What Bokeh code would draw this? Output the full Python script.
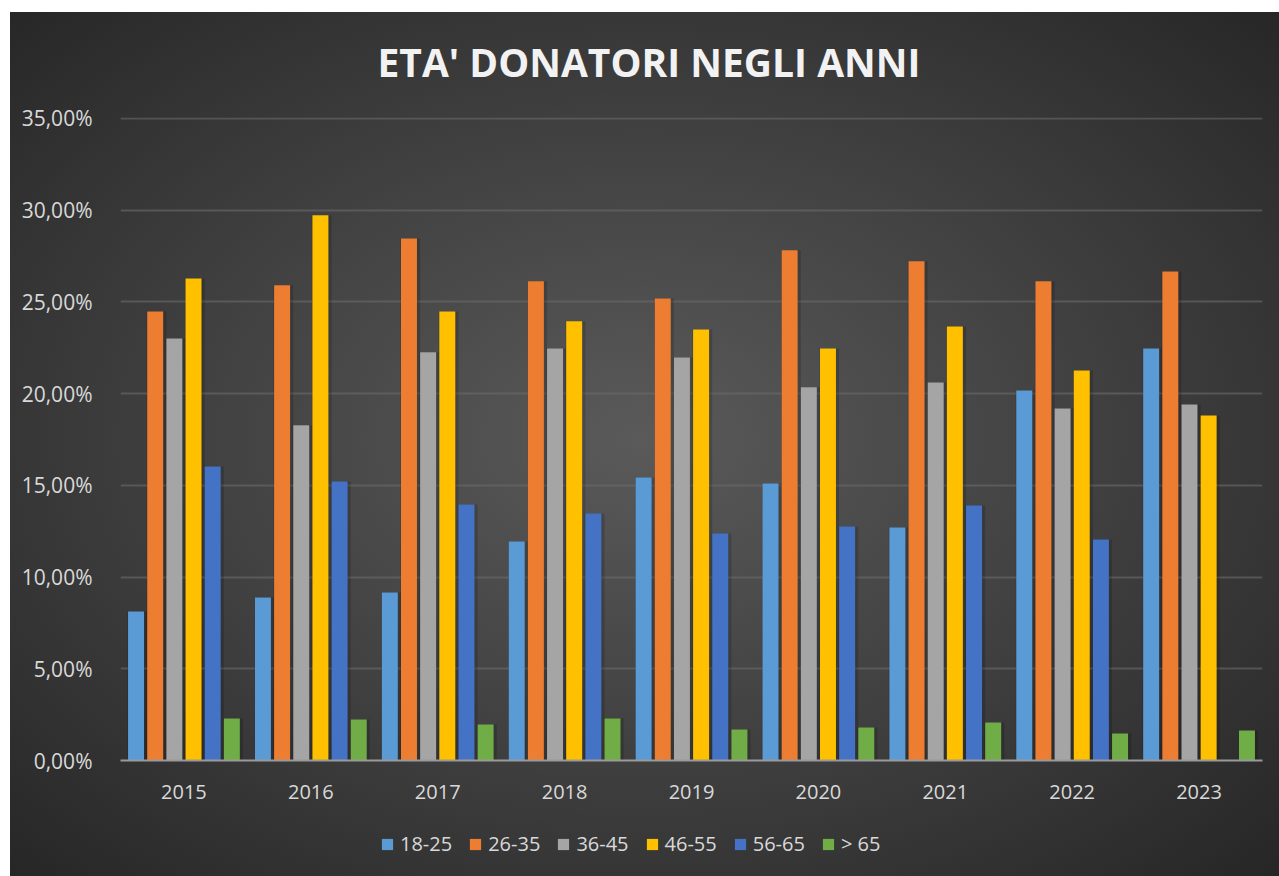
from bokeh.plotting import figure
from bokeh.layouts import column
from bokeh.models import (ColumnDataSource, FactorRange, Range1d, Legend, LegendItem,
                          CustomJSTickFormatter, FixedTicker)
from bokeh.transform import dodge
from bokeh.embed import file_html
from bokeh.resources import INLINE

# ---------------- data ----------------
years = ["2015", "2016", "2017", "2018", "2019", "2020", "2021", "2022", "2023"]
age_groups = ["18-25", "26-35", "36-45", "46-55", "56-65", "> 65"]
s_18_25 = [8.12, 8.89, 9.16, 11.94, 15.43, 15.10, 12.70, 20.17, 22.46]
s_26_35 = [24.48, 25.90, 28.46, 26.12, 25.19, 27.81, 27.21, 26.12, 26.66]
s_36_45 = [23.01, 18.27, 22.25, 22.46, 21.97, 20.34, 20.61, 19.19, 19.41]
s_46_55 = [26.28, 29.72, 24.48, 23.94, 23.50, 22.46, 23.66, 21.26, 18.81]
s_56_65 = [16.03, 15.21, 13.96, 13.47, 12.38, 12.76, 13.90, 12.05, 0.0]
s_over_65 = [2.29, 2.24, 1.96, 2.29, 1.69, 1.80, 2.07, 1.47, 1.64]
y_ticks = [0, 5, 10, 15, 20, 25, 30, 35]
title_text = "ETA' DONATORI NEGLI ANNI"

series = [s_18_25, s_26_35, s_36_45, s_46_55, s_56_65, s_over_65]
colors = ["#5B9BD5", "#ED7D31", "#A5A5A5", "#FFC000", "#4472C4", "#70AD47"]
keys = ["a", "b", "c", "d", "e", "f"]

data = {"year": years}
for k, s in zip(keys, series):
    data[k] = s
src = ColumnDataSource(data)

p = figure(width=1279, height=816, x_range=FactorRange(factors=years, range_padding=0),
           y_range=Range1d(0, 35.05), output_backend="svg", toolbar_location=None,
           min_border_left=120, min_border_right=17, min_border_top=117, min_border_bottom=56)
p.background_fill_alpha = 0
p.border_fill_alpha = 0
p.outline_line_color = None

step = 0.151
bw = 0.126
for i, (k, c) in enumerate(zip(keys, colors)):
    off = (i - 2.5) * step
    # soft shadow
    p.vbar(x=dodge("year", off + 0.01, range=p.x_range), top=k, width=bw + 0.03, source=src,
           fill_color="black", fill_alpha=0.16, line_color=None)
    p.vbar(x=dodge("year", off, range=p.x_range), top=k, width=bw, source=src,
           fill_color=c, line_color=None)

# title
p.title.text = title_text
p.title.align = "left"
p.title.offset = 257
p.title.standoff = 59
p.title.text_font = "Open Sans"
p.title.text_font_size = "39px"
p.title.text_font_style = "bold"
p.title.text_color = "#f2f2f2"

# axes
p.yaxis.ticker = FixedTicker(ticks=y_ticks)
p.yaxis.formatter = CustomJSTickFormatter(code="return tick.toFixed(2).replace('.', ',') + '%';")
p.yaxis.axis_line_color = None
p.yaxis.major_tick_line_color = None
p.yaxis.minor_tick_line_color = None
p.yaxis.major_label_standoff = 22
p.yaxis.major_label_text_color = "#d9d9d9"
p.yaxis.major_label_text_font = "Open Sans"
p.yaxis.major_label_text_font_size = "21px"

p.xaxis.axis_line_color = "#9a9a9a"
p.xaxis.axis_line_width = 2
p.xaxis.major_tick_line_color = None
p.xaxis.minor_tick_line_color = None
p.xaxis.major_label_standoff = 18
p.xaxis.major_label_text_color = "#d9d9d9"
p.xaxis.major_label_text_font = "Open Sans"
p.xaxis.major_label_text_font_size = "20px"

p.xgrid.grid_line_color = None
p.ygrid.grid_line_color = "#6a6a6a"
p.ygrid.grid_line_alpha = 0.6
p.ygrid.grid_line_width = 2

# legend strip (own small figure so the legend is not clipped by the chart frame)
lg = figure(width=1279, height=60, x_range=Range1d(0, 1), y_range=Range1d(0, 1),
            output_backend="svg", toolbar_location=None,
            x_axis_location=None, y_axis_location=None,
            min_border_left=0, min_border_right=0, min_border_top=0, min_border_bottom=0)
lg.background_fill_alpha = 0
lg.border_fill_alpha = 0
lg.outline_line_color = None
lg.grid.visible = False
items = []
for c, name in zip(colors, age_groups):
    r = lg.vbar(x=[-5.0], top=[0.0], width=0.1, fill_color=c, line_color=None)
    items.append(LegendItem(label=name, renderers=[r]))
legend = Legend(items=items, orientation="horizontal", location=(260, 19),
                glyph_width=14, glyph_height=14, label_standoff=6, spacing=16,
                padding=0, margin=0, border_line_alpha=0, background_fill_alpha=0,
                label_text_color="#d9d9d9", label_text_font="Open Sans",
                label_text_font_size="20px")
lg.add_layout(legend)

layout = column(p, lg, spacing=0, styles={"background": (
    "linear-gradient(#ffffff, #ffffff) top left / 100% 12px no-repeat, "
    "linear-gradient(#ffffff, #ffffff) top left / 10px 100% no-repeat, "
    "radial-gradient(ellipse farthest-corner at 50% 50%, #5a5a5a 0%, #434343 45%, #262626 100%)")})

open("out.html", "w").write(file_html(layout, INLINE))
